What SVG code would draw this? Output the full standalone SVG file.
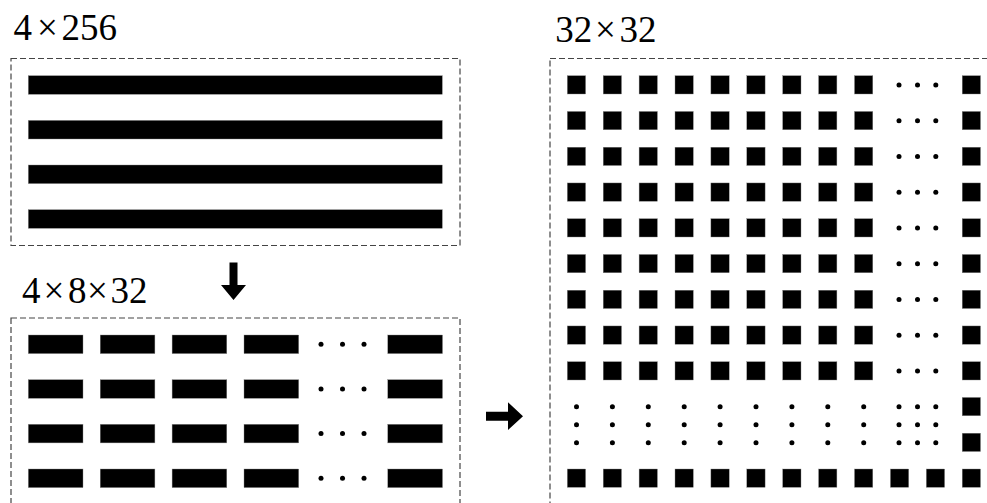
<svg xmlns="http://www.w3.org/2000/svg" width="987" height="503" viewBox="0 0 987 503">
<defs>
<style>
.lbl{font-family:'Liberation Serif','DejaVu Serif','Times New Roman',Times,serif;font-size:37px;fill:#000}
.box{fill:none;stroke:#444;stroke-width:1.2;stroke-dasharray:6 3}
.bar{fill:#000;stroke:#888;stroke-width:0.4}
.sq{fill:#000;stroke:#888;stroke-width:0.4}
.dot{fill:#000}
.arr{fill:#000}
</style>
<rect id="hbar" class="bar" x="0" y="0" width="414" height="18.6"/>
<rect id="sbar" class="bar" x="0" y="0" width="54.7" height="18.6"/>
<rect id="sq" class="sq" x="0" y="0" width="18.3" height="18.3"/>
<g id="d3h"><circle class="dot" cx="0" cy="0" r="2.5"/><circle class="dot" cx="18.5" cy="0" r="2.5"/><circle class="dot" cx="36.8" cy="0" r="2.5"/></g>
<g id="d3v"><circle class="dot" cx="0" cy="0" r="2.5"/><circle class="dot" cx="0" cy="18" r="2.5"/><circle class="dot" cx="0" cy="36" r="2.5"/></g>
<g id="sqrow">
<use href="#sq" x="0"/><use href="#sq" x="35.9"/><use href="#sq" x="71.8"/><use href="#sq" x="107.7"/><use href="#sq" x="143.6"/><use href="#sq" x="179.5"/><use href="#sq" x="215.4"/><use href="#sq" x="251.3"/><use href="#sq" x="287.2"/>
<use href="#d3h" x="331.7" y="9.2"/>
<use href="#sq" x="394.9"/>
</g>
<g id="barrow">
<use href="#sbar" x="0"/><use href="#sbar" x="71.9"/><use href="#sbar" x="143.8"/><use href="#sbar" x="215.7"/>
<circle class="dot" cx="292.7" cy="9.3" r="2.5"/><circle class="dot" cx="314.2" cy="9.3" r="2.5"/><circle class="dot" cx="335.7" cy="9.3" r="2.5"/>
<use href="#sbar" x="359.5"/>
</g>
</defs>

<g id="flat">
<text class="lbl" y="39.5"><tspan x="13.5">4</tspan><tspan x="37">×</tspan><tspan x="61.5">256</tspan></text>
<rect class="box" x="11" y="58.5" width="449" height="187"/>
<use href="#hbar" x="28.3" y="75.7"/>
<use href="#hbar" x="28.3" y="120.4"/>
<use href="#hbar" x="28.3" y="165"/>
<use href="#hbar" x="28.3" y="209.7"/>
</g>

<g id="split">
<text class="lbl" y="302.5"><tspan x="22">4</tspan><tspan x="43.5">×</tspan><tspan x="68">8</tspan><tspan x="87">×</tspan><tspan x="110.5">32</tspan></text>
<rect class="box" x="11" y="318" width="449" height="220"/>
<use href="#barrow" x="28.3" y="335"/>
<use href="#barrow" x="28.3" y="379.7"/>
<use href="#barrow" x="28.3" y="424.3"/>
<use href="#barrow" x="28.3" y="469"/>
</g>

<g id="grid">
<text class="lbl" y="41.5"><tspan x="555.3">32</tspan><tspan x="595">×</tspan><tspan x="619.5">32</tspan></text>
<rect class="box" x="550" y="58.5" width="460" height="480"/>
<use href="#sqrow" x="567.3" y="75.7"/>
<use href="#sqrow" x="567.3" y="111.45"/>
<use href="#sqrow" x="567.3" y="147.2"/>
<use href="#sqrow" x="567.3" y="182.95"/>
<use href="#sqrow" x="567.3" y="218.7"/>
<use href="#sqrow" x="567.3" y="254.45"/>
<use href="#sqrow" x="567.3" y="290.2"/>
<use href="#sqrow" x="567.3" y="325.95"/>
<use href="#sqrow" x="567.3" y="361.7"/>
<g transform="translate(0,406.7)">
<use href="#d3v" x="576.5"/><use href="#d3v" x="612.4"/><use href="#d3v" x="648.3"/><use href="#d3v" x="684.2"/><use href="#d3v" x="720.1"/><use href="#d3v" x="756"/><use href="#d3v" x="791.9"/><use href="#d3v" x="827.8"/><use href="#d3v" x="863.7"/>
<use href="#d3v" x="899"/><use href="#d3v" x="917.5"/><use href="#d3v" x="935.8"/>
</g>
<use href="#sq" x="962.2" y="397.45"/>
<use href="#sq" x="962.2" y="433.2"/>
<g transform="translate(567.3,469)">
<use href="#sq" x="0"/><use href="#sq" x="35.9"/><use href="#sq" x="71.8"/><use href="#sq" x="107.7"/><use href="#sq" x="143.6"/><use href="#sq" x="179.5"/><use href="#sq" x="215.4"/><use href="#sq" x="251.3"/><use href="#sq" x="287.2"/><use href="#sq" x="323.1"/><use href="#sq" x="359"/><use href="#sq" x="394.9"/>
</g>
</g>

<g id="connectors">
<polygon class="arr" points="229.5,262.5 237.5,262.5 237.5,285 246,285 233.5,300 221,285 229.5,285"/>
<polygon class="arr" points="486,411.7 508,411.7 508,402.3 523,416.2 508,430 508,420.7 486,420.7"/>
</g>
</svg>
